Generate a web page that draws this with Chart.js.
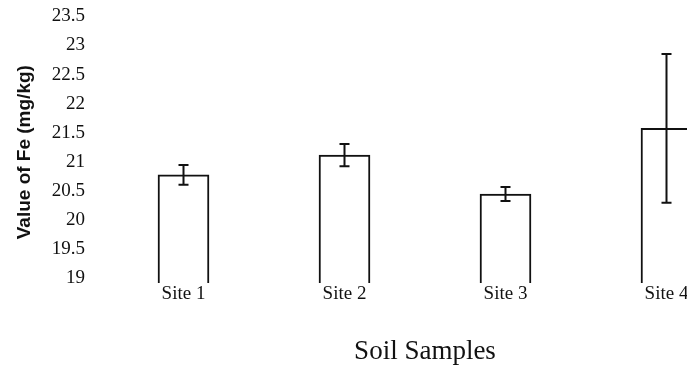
<!DOCTYPE html>
<html>
<head>
<meta charset="utf-8">
<script src="https://cdn.jsdelivr.net/npm/chart.js@4"></script>
<style>
  html, body { margin: 0; padding: 0; background: #fff; overflow: hidden; }
  #wrap { width: 750px; height: 365px; }
</style>
</head>
<body>
<div id="wrap"><canvas id="chart" width="750" height="365"></canvas></div>
<script>
const sites = ['Site 1', 'Site 2', 'Site 3', 'Site 4'];
const feValues = [20.86, 21.2, 20.53, 21.66];
const feErrors = [0.17, 0.19, 0.12, 1.28];
const yTicks = [19, 19.5, 20, 20.5, 21, 21.5, 22, 22.5, 23, 23.5];

// simple error bar drawing on top of the bars
const errorBars = {
    id: 'errorBars',
    afterDatasetsDraw(chart) {
        const ctx = chart.ctx;
        const y = chart.scales.y;
        const meta = chart.getDatasetMeta(0);
        ctx.save();
        ctx.strokeStyle = '#111';
        ctx.lineWidth = 2;
        meta.data.forEach((bar, i) => {
            const top = y.getPixelForValue(feValues[i] + feErrors[i]);
            const bot = y.getPixelForValue(feValues[i] - feErrors[i]);
            ctx.beginPath();
            ctx.moveTo(bar.x, top);
            ctx.lineTo(bar.x, bot);
            ctx.moveTo(bar.x - 5, top);
            ctx.lineTo(bar.x + 5, top);
            ctx.moveTo(bar.x - 5, bot);
            ctx.lineTo(bar.x + 5, bot);
            ctx.stroke();
        });
        ctx.restore();
    }
};

new Chart(document.getElementById('chart'), {
    type: 'bar',
    data: {
        labels: sites,
        datasets: [{
            data: feValues,
            backgroundColor: '#fff',
            borderColor: '#111',
            borderWidth: 2,
            barThickness: 51
        }]
    },
    options: {
        responsive: false,
        animation: false,
        layout: { padding: { top: 21, right: 3, left: 0, bottom: 0 } },
        plugins: { legend: { display: false }, tooltip: { enabled: false } },
        scales: {
            x: {
                grid: { display: false },
                border: { display: false },
                ticks: { padding: -8, color: '#111', font: { family: 'Liberation Serif', size: 19 } },
                title: {
                    display: true,
                    text: 'Soil Samples',
                    color: '#111',
                    font: { family: 'Liberation Serif', size: 27, lineHeight: 1 },
                    padding: { top: 0, bottom: 0 }
                },
                afterFit(scale) { scale.height = 82; }
            },
            y: {
                min: 19,
                max: 23.5,
                afterBuildTicks(scale) { scale.ticks = yTicks.map(v => ({ value: v })); },
                grid: { display: false },
                border: { display: false },
                ticks: {
                    padding: 10,
                    labelOffset: -5,
                    color: '#111',
                    font: { family: 'Liberation Serif', size: 19 },
                    callback: v => String(v)
                },
                title: {
                    display: true,
                    text: 'Value of Fe (mg/kg)',
                    color: '#111',
                    font: { family: 'Liberation Sans', size: 19, weight: 'bold' },
                    padding: { top: 13, bottom: 0 }
                },
                afterFit(scale) { scale.width = 103; }
            }
        }
    },
    plugins: [errorBars]
});
</script>
</body>
</html>
